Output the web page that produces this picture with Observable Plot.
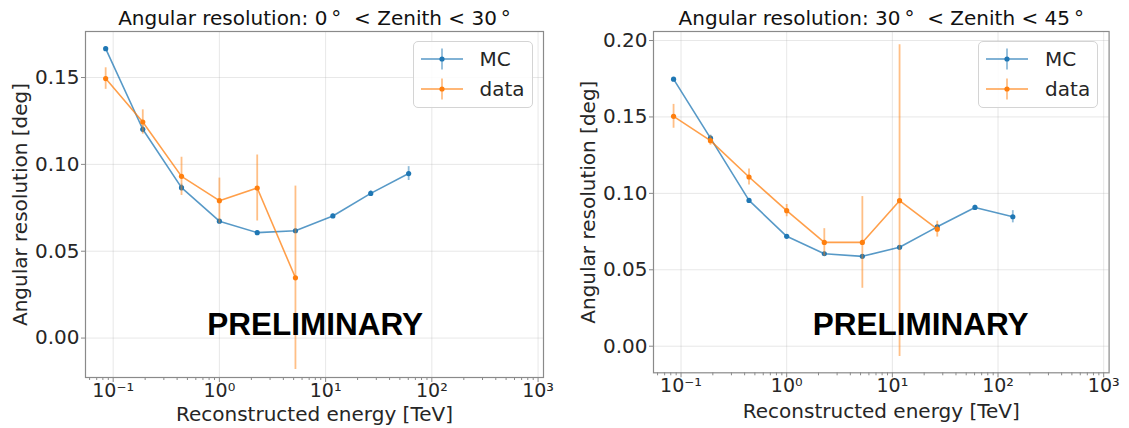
<!DOCTYPE html>
<html><head><meta charset="utf-8">
<script src="https://cdn.jsdelivr.net/npm/d3@7"></script>
<script src="https://cdn.jsdelivr.net/npm/@observablehq/plot@0.6"></script>
<style>
body{margin:0;background:#fff;}
#wrap{display:flex;width:1129px;height:428px;overflow:hidden;}
.panel{position:relative;}
.legend{position:absolute;box-sizing:border-box;border:1px solid #d4d4d4;border-radius:5px;background:rgba(255,255,255,0.85);font-family:"DejaVu Sans";font-size:20px;color:#262626;}
.legend .row{position:absolute;left:0;height:30px;display:flex;align-items:center;}
.legend svg{display:block;}
</style></head><body><div id="wrap"></div>
<script>
// ---- data ----
const energy = [0.085, 0.19, 0.44, 1.0, 2.27, 5.2, 11.7, 26.6, 60.5, 138];

// Zenith 0-30
const mcLow      = [0.1666, 0.1202, 0.0866, 0.0673, 0.0607, 0.0618, 0.0703, 0.0833, 0.0947];
const mcLowErr   = [0.001, 0.002, 0.002, 0.001, 0.001, 0.001, 0.001, 0.0015, 0.004];
const dataLow    = [0.1494, 0.1244, 0.0931, 0.0791, 0.0864, 0.0347];
const dataLowErr = [0.0062, 0.007, 0.011, 0.013, 0.019, 0.0528];

// Zenith 30-45
const mcHigh      = [0.1747, 0.1361, 0.0954, 0.0719, 0.0605, 0.0588, 0.0647, 0.0781, 0.0908, 0.0847];
const mcHighErr   = [0.001, 0.002, 0.001, 0.001, 0.001, 0.001, 0.001, 0.0015, 0.0015, 0.004];
const dataHigh    = [0.1504, 0.1345, 0.1107, 0.0887, 0.0679, 0.0679, 0.0952, 0.0766];
const dataHighErr = [0.0078, 0.003, 0.0052, 0.004, 0.009, 0.030, 0.102, 0.0052];

const xTicks = [0.1, 1, 10, 100, 1000];
const yTicksLow = [0, 0.05, 0.10, 0.15];
const yTicksHigh = [0, 0.05, 0.10, 0.15, 0.20];
const titles = ["Angular resolution: 0\u2009°\u00a0 < Zenith < 30\u2009°", "Angular resolution: 30\u2009°\u00a0 < Zenith < 45\u2009°"];
const xLabel = "Reconstructed energy [TeV]";
const yLabel = "Angular resolution [deg]";
const watermark = "PRELIMINARY";
const seriesNames = ["MC", "data"];
const seriesColors = ["#1f77b4", "#ff7f0e"];

// ---- helpers ----
const sup = {"-": "⁻", "0": "⁰", "1": "¹", "2": "²", "3": "³", "4": "⁴"};
const logFmt = d => "10" + String(Math.round(Math.log10(d))).replace(/./g, c => sup[c]);
const rows = (vals, errs) => vals.map((v, i) => ({e: energy[i], v, lo: v - errs[i], hi: v + errs[i]}));

const xDomain = [0.0549, 1125];
const minorTicks = d3.scaleLog().domain(xDomain).ticks().filter(t => Math.abs(Math.log10(t) - Math.round(Math.log10(t))) > 1e-6);

const FONT = "DejaVu Sans";
const TXT = "#262626";
const EDGE = "#8a8a8a";

function panel(cfg) {
  const mc = rows(cfg.mc, cfg.mcErr);
  const dat = rows(cfg.dat, cfg.datErr);
  const series = [mc, dat];
  const marks = [
    Plot.gridX(xTicks, {stroke: "#b0b0b0", strokeOpacity: 0.3, strokeWidth: 1}),
    Plot.gridY(cfg.yTicks, {stroke: "#b0b0b0", strokeOpacity: 0.3, strokeWidth: 1}),
    Plot.axisX(minorTicks, {tickSize: 3, tickFormat: () => "", stroke: EDGE, label: null}),
    Plot.axisX(xTicks, {tickSize: 5, tickPadding: 1, tickFormat: logFmt, stroke: EDGE, fill: TXT, fontSize: 19, label: null}),
    Plot.axisY(cfg.yTicks, {tickSize: 4, tickPadding: 2, tickFormat: d3.format(".2f"), stroke: EDGE, fill: TXT, fontSize: 20, label: null}),
  ];
  series.forEach((s, k) => {
    marks.push(Plot.ruleX(s, {x: "e", y1: "lo", y2: "hi", stroke: seriesColors[k], strokeOpacity: 0.5, strokeWidth: 1.8}));
    marks.push(Plot.line(s, {x: "e", y: "v", stroke: seriesColors[k], strokeOpacity: 0.75, strokeWidth: 1.6}));
    marks.push(Plot.dot(s, {x: "e", y: "v", fill: seriesColors[k], r: 2.6}));
  });
  marks.push(
    Plot.frame({stroke: EDGE, strokeWidth: 1.2}),
    Plot.text([cfg.title], {frameAnchor: "top", dy: -13, lineAnchor: "middle", fontSize: 20, fill: "#111"}),
    Plot.text([xLabel], {frameAnchor: "bottom", dy: cfg.xLabelDy, lineAnchor: "middle", fontSize: 20, fill: TXT}),
    Plot.text([yLabel], {frameAnchor: "left", dx: -65, rotate: -90, textAnchor: "middle", lineAnchor: "middle", fontSize: 20, fill: TXT}),
    Plot.text([watermark], {x: [cfg.wmX], y: [cfg.wmY], text: d => d, fontFamily: "Liberation Sans", fontWeight: "bold", fontSize: 31.5, fill: "#000", lineAnchor: "middle"})
  );
  const svg = Plot.plot({
    width: cfg.width, height: 428,
    marginLeft: cfg.ml, marginRight: cfg.mr, marginTop: 31, marginBottom: cfg.mb,
    style: {fontFamily: FONT, fontSize: "20px", color: TXT, background: "#fff", overflow: "visible"},
    x: {type: "log", domain: xDomain},
    y: {domain: cfg.yDomain},
    marks
  });
  const div = document.createElement("div");
  div.className = "panel";
  div.style.width = cfg.width + "px";
  div.appendChild(svg);
  // legend
  const lg = document.createElement("div");
  lg.className = "legend";
  lg.style.right = (cfg.mr + 10.5) + "px";
  lg.style.top = "41px";
  lg.style.width = "120px";
  lg.style.height = "67px";
  seriesNames.forEach((name, k) => {
    const row = document.createElement("div");
    row.className = "row";
    row.style.top = (2 + k * 29.6) + "px";
    const c = seriesColors[k];
    row.innerHTML = `<svg width="62" height="30"><line x1="7" x2="49" y1="15" y2="15" stroke="${c}" stroke-opacity="0.75" stroke-width="1.6"/><line x1="28" x2="28" y1="4.5" y2="25.5" stroke="${c}" stroke-opacity="0.5" stroke-width="1.8"/><circle cx="28" cy="15" r="2.6" fill="${c}"/></svg><span style="margin-left:4px">${name}</span>`;
    lg.appendChild(row);
  });
  div.appendChild(lg);
  return div;
}

const wrap = document.getElementById("wrap");
wrap.appendChild(panel({
  width: 565, ml: 85, mr: 22, mb: 51, xLabelDy: 37,
  yDomain: [-0.0227, 0.1765], yTicks: yTicksLow, title: titles[0],
  mc: mcLow, mcErr: mcLowErr, dat: dataLow, datErr: dataLowErr,
  wmX: 7.98, wmY: 0.0077
}));
wrap.appendChild(panel({
  width: 564, ml: 88, mr: 20.4, mb: 55.7, xLabelDy: 39,
  yDomain: [-0.0174, 0.2059], yTicks: yTicksHigh, title: titles[1],
  mc: mcHigh, mcErr: mcHighErr, dat: dataHigh, datErr: dataHighErr,
  wmX: 18.5, wmY: 0.0142
}));
</script></body></html>
